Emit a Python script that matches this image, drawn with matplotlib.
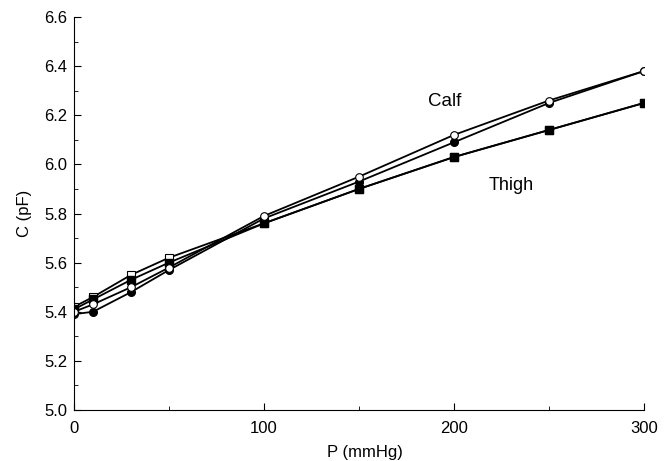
import numpy as np
import matplotlib
matplotlib.use("Agg")
import matplotlib.pyplot as plt
from matplotlib.ticker import MultipleLocator

plt.rcParams['font.family'] = ['Liberation Sans', 'DejaVu Sans']

# pressure (mmHg)
p = [0, 10, 30, 50, 100, 150, 200, 250, 300]

# capacitance (pF)
thigh_open = [5.42, 5.46, 5.55, 5.62, 5.76, 5.90, 6.03, 6.14, 6.25]
thigh_filled = [5.41, 5.45, 5.53, 5.60, 5.76, 5.90, 6.03, 6.14, 6.25]
calf_filled = [5.39, 5.40, 5.48, 5.57, 5.78, 5.93, 6.09, 6.25, 6.38]
calf_open = [5.40, 5.43, 5.50, 5.58, 5.79, 5.95, 6.12, 6.26, 6.38]

fig = plt.figure(figsize=(6.69, 4.61), dpi=100)
ax = fig.add_axes([0.1106, 0.1106, 0.8520, 0.8525])

lw = 1.3
ms = 5.5
ax.plot(p, thigh_open, '-s', color='black', lw=lw, ms=ms, mfc='white', mec='black', mew=0.8)
ax.plot(p, thigh_filled, '-s', color='black', lw=lw, ms=ms, mfc='black', mec='black')
ax.plot(p, calf_filled, '-o', color='black', lw=lw, ms=ms, mfc='black', mec='black')
ax.plot(p, calf_open, '-o', color='black', lw=lw, ms=ms, mfc='white', mec='black', mew=0.8)

ax.set_xlim(0, 300)
ax.set_ylim(5.0, 6.6)
ax.xaxis.set_major_locator(MultipleLocator(100))
ax.xaxis.set_minor_locator(MultipleLocator(50))
ax.yaxis.set_major_locator(MultipleLocator(0.2))
ax.yaxis.set_minor_locator(MultipleLocator(0.1))
ax.yaxis.set_major_formatter(matplotlib.ticker.FormatStrFormatter('%.1f'))

ax.spines['top'].set_visible(False)
ax.spines['right'].set_visible(False)
ax.tick_params(which='both', direction='in', labelsize=12)
ax.tick_params(which='major', length=5)
ax.tick_params(which='minor', length=3)
ax.tick_params(axis='x', pad=8)
ax.tick_params(axis='y', pad=5)

ax.set_xlabel('P (mmHg)', fontsize=12)
ax.xaxis.set_label_coords(0.51, -0.09)
ax.set_ylabel('C (pF)', fontsize=12)
ax.yaxis.set_label_coords(-0.073, 0.5)

ax.text(195, 6.258, 'Calf', fontsize=13.5, ha='center', va='center')
ax.text(230, 5.916, 'Thigh', fontsize=13, ha='center', va='center')

fig.savefig('out.png', dpi=100)
